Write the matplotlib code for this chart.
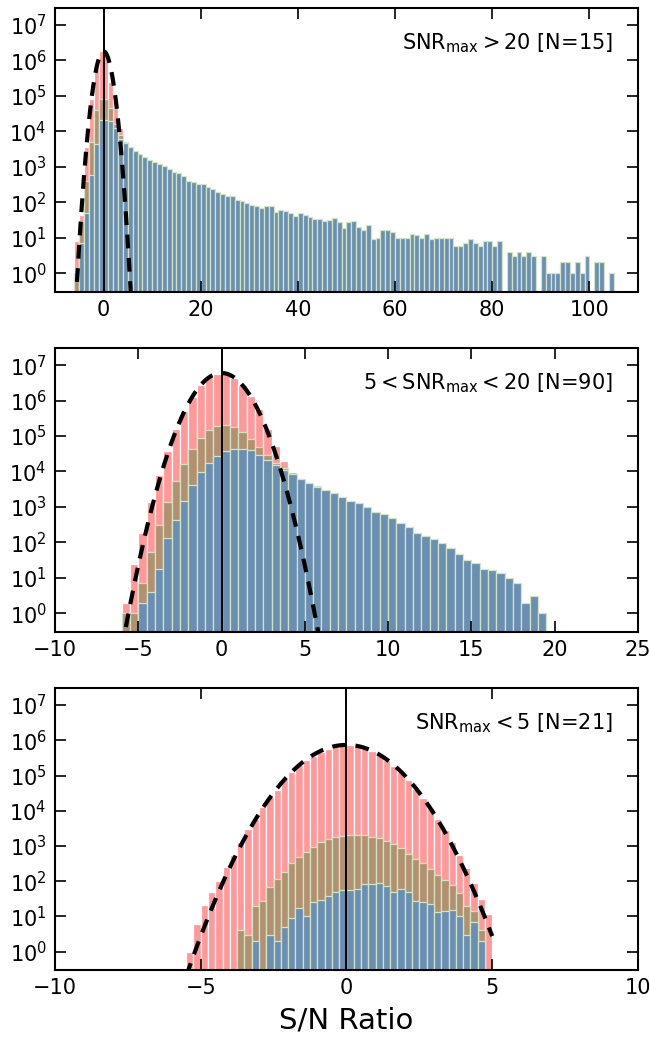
import numpy as np
import matplotlib
matplotlib.use('Agg')
import matplotlib.pyplot as plt

# ---------- Panel 1: SNR_max > 20 [N=15], bins of width 1 ----------
p1_width = 1.0
p1_red_start = -6
p1_red = [8, 45, 3500, 80000, 650000, 1800000, 1800000, 250000, 45000, 12000, 5000]
p1_brown_start = -6
p1_brown = [1, 30, 400, 5000, 40000, 80000, 80000, 45000, 16000, 8000, 4900]
p1_blue_start = -5
p1_blue = [7, 50, 600, 4500, 21000, 21000, 20000, 12000, 6000, 4800,
           3500, 2800, 2300, 1900, 1600, 1400, 1200, 1070, 890, 720,
           660, 540, 400, 360, 316, 316, 275, 234, 200, 174,
           148, 151, 112, 105, 93, 83, 76, 68, 79, 76,
           52, 59, 55, 49, 40, 49, 44, 38, 33, 33,
           30, 32, 35, 27, 19, 27, 29, 20, 17, 23,
           9, 10, 17, 16, 14, 10, 10, 10, 13, 12,
           10, 13, 9, 10, 10, 10, 10, 6, 6, 7,
           9, 7, 6, 8, 8, 6, 8, 0, 4, 3,
           4, 3, 4, 3, 0, 3, 1, 1, 1, 2,
           2, 1, 2, 1, 3, 0, 2, 2, 0, 1]
p1_gauss = dict(amp=1.8e6, mu=0.0, sigma=1.0, lo=-6.0, hi=6.0)

# ---------- Panel 2: 5 < SNR_max < 20 [N=90], bins of width 0.5 ----------
p2_width = 0.5
p2_red_start = -6
p2_red = [2, 25, 180, 1370, 7900, 37000, 160000, 500000, 1300000, 2700000,
          4500000, 5500000, 5500000, 4400000, 2800000, 1350000, 580000, 160000,
          52000, 19500, 9400, 6600, 4900, 3900]
p2_brown_start = -6
p2_brown = [1, 1, 7, 55, 310, 1380, 5300, 16000, 43000, 89000,
            145000, 190000, 200000, 180000, 130000, 81000, 49000, 29000,
            17000, 12700, 8700, 6300, 4700, 3800]
p2_blue_start = -5
p2_blue = [2, 4, 18, 135, 425, 1450, 4100, 9800, 17000, 27000,
           37000, 42000, 42000, 40000, 29000, 21000, 15000, 11000, 8400, 6100,
           4600, 3700, 2950, 2400, 1860, 1450, 1260, 980, 720, 630,
           500, 350, 275, 178, 155, 123, 93, 68, 46, 32,
           26, 18, 17, 14, 10, 7, 2, 3, 1]
p2_gauss = dict(amp=6.0e6, mu=0.0, sigma=1.0, lo=-6.0, hi=6.0)

# ---------- Panel 3: SNR_max < 5 [N=21], bins of width 0.25 ----------
p3_width = 0.25
p3_red_start = -5.5
p3_red = [1, 6, 21, 50, 100, 250, 550, 1300, 3000, 6000,
          12600, 24000, 40000, 79000, 126000, 200000, 280000, 355000, 480000, 575000,
          630000, 710000, 740000, 710000, 630000, 500000, 380000, 280000, 190000, 126000,
          76000, 42000, 23000, 12000, 6000, 2800, 1260, 550, 240, 90,
          32, 12]
p3_brown_start = -3.75
p3_brown = [4, 3, 20, 28, 69, 117, 182, 330, 490, 670,
            930, 1290, 1550, 1780, 1950, 2030, 2040, 2030, 1850, 1660,
            1340, 1120, 870, 590, 425, 330, 223, 151, 110, 79,
            47, 20, 14, 4]
p3_blue_start = -3.25
p3_blue = [2, 0, 3, 2, 5, 9, 17, 10, 25, 30,
           39, 49, 55, 57, 60, 84, 84, 90, 74, 48,
           60, 48, 28, 25, 23, 13, 14, 15, 10, 3,
           7, 2]
p3_gauss = dict(amp=7.4e5, mu=0.0, sigma=1.0, lo=-5.5, hi=5.0)

labels = [r'$\mathrm{SNR_{max}} > 20$ [N=15]',
          r'$5 < \mathrm{SNR_{max}} < 20$ [N=90]',
          r'$\mathrm{SNR_{max}} < 5$ [N=21]']
xlims = [(-10, 110), (-10, 25), (-10, 10)]
xticks = [np.arange(0, 101, 20), np.arange(-10, 26, 5), np.arange(-10, 11, 5)]

RED = '#ff9999'
BROWN = '#b29170'
BLUE = '#6a8fb3'
EDGE = '#d3e4c4'

plt.rcParams['font.family'] = 'DejaVu Sans'
plt.rcParams['mathtext.default'] = 'regular'


def draw_hist(ax, start, width, counts, color, edge):
    lefts = start + width * np.arange(len(counts))
    ax.bar(lefts, counts, width=width, align='edge', color=color,
           edgecolor=edge, linewidth=0.9)


def draw_gauss(ax, g):
    x = np.linspace(g['lo'], g['hi'], 400)
    y = g['amp'] * np.exp(-0.5 * ((x - g['mu']) / g['sigma']) ** 2)
    ax.plot(x, y, color='k', lw=3, ls=(0, (3.3, 2.3)), zorder=5)


fig = plt.figure(figsize=(6.5, 10.38), dpi=100)
rects = [(0.0846, 0.7190, 0.8969, 0.2733),
         (0.0846, 0.3914, 0.8969, 0.2731),
         (0.0846, 0.0655, 0.8969, 0.2714)]

panels = [
    (p1_width, p1_red_start, p1_red, p1_brown_start, p1_brown, p1_blue_start, p1_blue, p1_gauss),
    (p2_width, p2_red_start, p2_red, p2_brown_start, p2_brown, p2_blue_start, p2_blue, p2_gauss),
    (p3_width, p3_red_start, p3_red, p3_brown_start, p3_brown, p3_blue_start, p3_blue, p3_gauss),
]

for i, (w, rs, red, bs, brown, us, blue, g) in enumerate(panels):
    ax = fig.add_axes(rects[i])
    ax.set_yscale('log')
    draw_hist(ax, rs, w, red, RED, 'white')
    draw_hist(ax, bs, w, brown, BROWN, EDGE)
    draw_hist(ax, us, w, blue, BLUE, EDGE)
    draw_gauss(ax, g)
    ax.axvline(0, color='k', lw=1.4, zorder=6)
    ax.set_xlim(*xlims[i])
    ax.set_ylim(0.3, 3e7)
    ax.set_xticks(xticks[i])
    ax.set_yticks([10.0 ** k for k in range(8)])
    ax.tick_params(which='both', direction='in', top=True, right=True,
                   labelsize=15, width=1.2)
    ax.tick_params(which='major', length=8, pad=6)
    ax.tick_params(which='minor', length=4)
    ax.xaxis.set_minor_locator(matplotlib.ticker.NullLocator())
    for sp in ax.spines.values():
        sp.set_linewidth(1.5)
    ax.text(0.957, 0.875, labels[i], transform=ax.transAxes, ha='right',
            va='center', fontsize=15)
    if i == 2:
        ax.set_xlabel('S/N Ratio', fontsize=21, labelpad=6)

fig.savefig('out.png', dpi=100)
